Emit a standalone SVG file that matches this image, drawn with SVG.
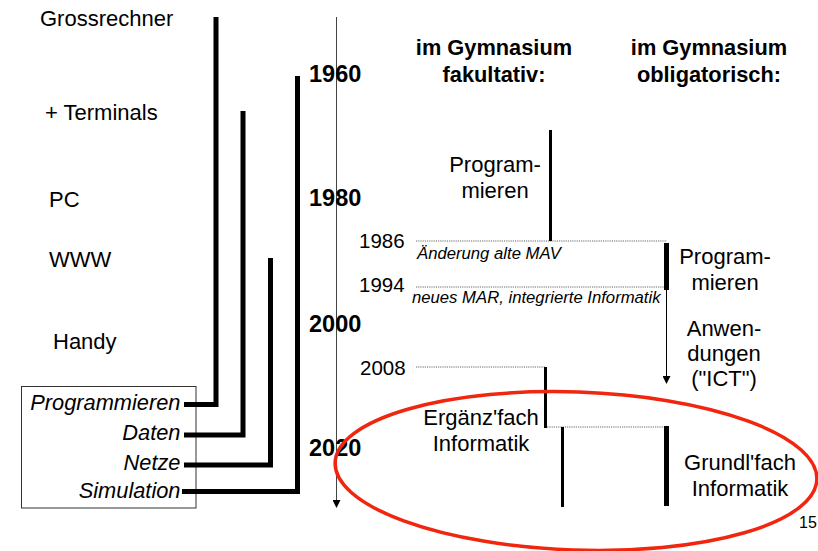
<svg xmlns="http://www.w3.org/2000/svg" width="818" height="551" viewBox="0 0 818 551">
<defs>
<style>
text{font-family:"Liberation Sans",Arial,sans-serif;fill:#000}
.lbl{font-size:22px}
.it{font-size:21.8px;font-style:italic;text-anchor:end}
.yr{font-size:23.5px;font-weight:bold}
.hd{font-size:21.8px;font-weight:bold;text-anchor:middle}
.sm{font-size:20.5px}
.note{font-size:16.7px;font-style:italic}
.c{font-size:22px;text-anchor:middle}
.thick{fill:none;stroke:#000;stroke-width:5;stroke-linejoin:miter}
.bar3{stroke:#000;stroke-width:3}
.bar5{stroke:#000;stroke-width:5}
.dot{stroke:#666;stroke-width:1;stroke-dasharray:1.2 1}
</style>
<marker id="ah" markerWidth="8" markerHeight="8" refX="7" refY="4" orient="auto" markerUnits="userSpaceOnUse">
<path d="M0,0 L8,4 L0,8 z" fill="#000"/>
</marker>
</defs>
<rect width="818" height="551" fill="#fff"/>

<g id="tech-labels">
<text class="lbl" x="40" y="26">Grossrechner</text>
<text class="lbl" x="45" y="120">+ Terminals</text>
<text class="lbl" x="49" y="207">PC</text>
<text class="lbl" x="49" y="267">WWW</text>
<text class="lbl" x="53" y="349">Handy</text>
</g>

<g id="topics-box">
<rect x="21.5" y="386.5" width="174.5" height="121.5" fill="none" stroke="#333" stroke-width="1"/>
<text class="it" x="180.5" y="410">Programmieren</text>
<text class="it" x="180.5" y="440">Daten</text>
<text class="it" x="180.5" y="469.5">Netze</text>
<text class="it" x="180.5" y="498">Simulation</text>
</g>

<g id="connectors">
<path class="thick" d="M184,404.5 H216 V17"/>
<path class="thick" d="M184,435 H243 V111"/>
<path class="thick" d="M184,465 H270.5 V258"/>
<path class="thick" d="M182,491.5 H297.5 V76"/>
<line x1="336.5" y1="17" x2="336.5" y2="507" stroke="#444" stroke-width="1" marker-end="url(#ah)"/>
<line class="dot" x1="416" y1="241" x2="667" y2="241"/>
<line class="dot" x1="416" y1="287" x2="667" y2="287"/>
<line class="dot" x1="416" y1="367" x2="545" y2="367"/>
<line class="dot" x1="545" y1="427" x2="666" y2="427"/>
<line class="bar3" x1="550.5" y1="130" x2="550.5" y2="241"/>
<line class="bar5" x1="666.5" y1="243" x2="666.5" y2="290"/>
<line x1="666.5" y1="290" x2="666.5" y2="383" stroke="#000" stroke-width="1" marker-end="url(#ah)"/>
<line class="bar3" x1="545.5" y1="367" x2="545.5" y2="428"/>
<line class="bar3" x1="562.5" y1="427" x2="562.5" y2="507"/>
<line class="bar5" x1="666.5" y1="426" x2="666.5" y2="506"/>
</g>

<g id="years">
<text class="yr" x="309" y="82">1960</text>
<text class="yr" x="309" y="206">1980</text>
<text class="yr" x="309" y="332">2000</text>
<text class="yr" x="309" y="456">2020</text>
<text class="sm" x="359" y="248">1986</text>
<text class="sm" x="359" y="292">1994</text>
<text class="sm" x="360" y="375">2008</text>
<text class="note" x="417" y="259">Änderung alte MAV</text>
<text class="note" x="412" y="303">neues MAR, integrierte Informatik</text>
</g>

<g id="headers">
<text class="hd" x="494" y="55">im Gymnasium</text>
<text class="hd" x="494" y="82">fakultativ:</text>
<text class="hd" x="709" y="55">im Gymnasium</text>
<text class="hd" x="709" y="82">obligatorisch:</text>
</g>

<g id="fak-programmieren">
<text class="c" x="495" y="172">Program-</text>
<text class="c" x="495" y="198">mieren</text>
</g>
<g id="obl-programmieren">
<text class="c" x="725" y="264">Program-</text>
<text class="c" x="725" y="290">mieren</text>
</g>
<g id="obl-ict">
<text class="c" x="724" y="336">Anwen-</text>
<text class="c" x="724" y="361">dungen</text>
<text class="c" x="724" y="386">("ICT")</text>
</g>
<g id="ergaenzfach">
<text class="c" x="481" y="425">Ergänz'fach</text>
<text class="c" x="481" y="451">Informatik</text>
</g>
<g id="grundlagenfach">
<text class="c" x="740" y="470">Grundl'fach</text>
<text class="c" x="740" y="496">Informatik</text>
</g>

<g id="highlight">
<ellipse cx="576" cy="471" rx="241" ry="79" fill="none" stroke="#f0260f" stroke-width="3.5" transform="rotate(2 576 471)"/>
</g>
<text x="799" y="528" font-size="16">15</text>
</svg>
